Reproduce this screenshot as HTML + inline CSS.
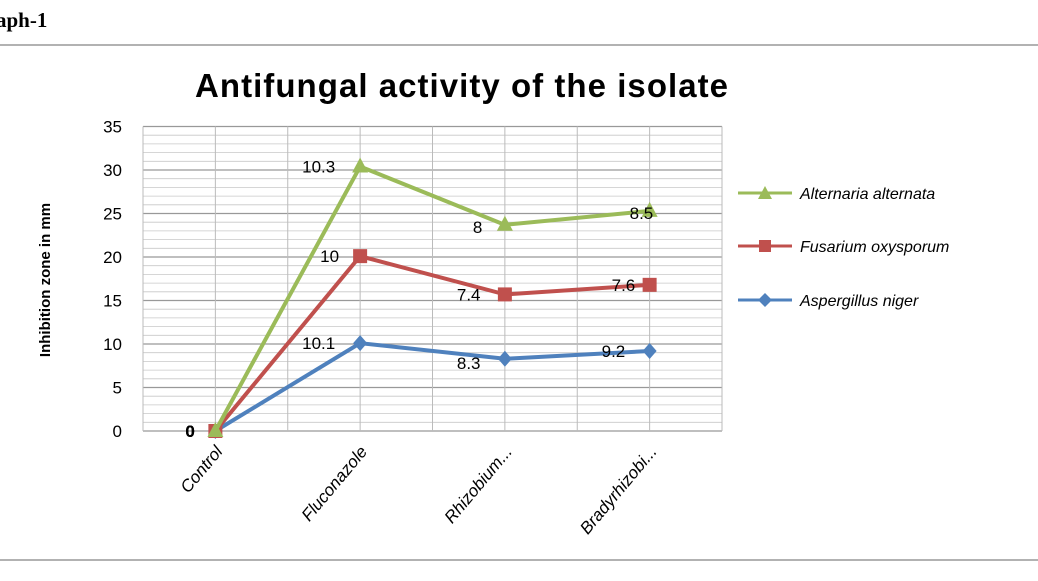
<!DOCTYPE html>
<html><head><meta charset="utf-8"><style>
body{margin:0;background:#fff;width:1038px;height:576px;overflow:hidden;font-family:"Liberation Sans",sans-serif}
</style></head><body>
<svg width="1038" height="576" id="c" font-family="Liberation Sans, sans-serif">
<text x="-4" y="27" font-family="Liberation Serif, serif" font-weight="bold" font-size="21">aph-1</text>
<line x1="0" y1="45" x2="1038" y2="45" stroke="#999" stroke-width="1.5"/>
<line x1="0" y1="560" x2="1038" y2="560" stroke="#999" stroke-width="1.5"/>
<text x="195" y="97" textLength="533" lengthAdjust="spacing" font-weight="bold" font-size="33">Antifungal  activity of the isolate</text>
<text transform="translate(50,280) rotate(-90)" text-anchor="middle" font-weight="bold" font-size="15">Inhibition zone in mm</text>
<g id="grid"></g><g id="ticks"></g><g id="series"></g>
<g>
<line x1="738" y1="193" x2="792" y2="193" stroke="#9bbb59" stroke-width="3"/><path d="M765,186 L772,199 L758,199Z" fill="#9bbb59"/>
<text x="800" y="199" font-style="italic" font-size="16">Alternaria alternata</text>
<line x1="738" y1="246" x2="792" y2="246" stroke="#c0504d" stroke-width="3"/><rect x="759" y="240" width="12" height="12" fill="#c0504d"/>
<text x="800" y="252" font-style="italic" font-size="16">Fusarium oxysporum</text>
<line x1="738" y1="300" x2="792" y2="300" stroke="#4f81bd" stroke-width="3"/><path d="M765,293 L772,300 L765,307 L758,300Z" fill="#4f81bd"/>
<text x="800" y="306" font-style="italic" font-size="16">Aspergillus  niger</text>
</g>
</svg>
<script>
const categories=["Control","Fluconazole","Rhizobium...","Bradyrhizobi..."];
const aspergillus=[0,10.1,8.3,9.2];
const fusarium=[0,10,7.4,7.6];
const alternaria=[0,10.3,8,8.5];
const yTicks=[0,5,10,15,20,25,30,35];
const NS="http://www.w3.org/2000/svg";
const X0=143,X1=722,Y0=431,Y35=126.5;
const xs=i=>X0+(X1-X0)/categories.length*(i+0.5);
const ys=v=>Y0-(Y0-Y35)*v/35;
function mk(t,a,p){const e=document.createElementNS(NS,t);for(const k in a)e.setAttribute(k,a[k]);p.appendChild(e);return e;}
const g=document.getElementById('grid'),tk=document.getElementById('ticks'),s=document.getElementById('series');
for(let v=0;v<=35;v++){const l=mk('line',{x1:X0,x2:X1,y1:ys(v),y2:ys(v),stroke:v%5?'#c8c8c8':'#999','stroke-width':v%5?0.8:1.2},g);

}
for(let i=0;i<=categories.length*2;i++){const x=X0+(X1-X0)/(categories.length*2)*i;const l=mk('line',{x1:x,x2:x,y1:Y35,y2:Y0,stroke:'#bbb','stroke-width':1},g);

}
yTicks.forEach(v=>{const t=mk('text',{x:122,y:ys(v)+6,'text-anchor':'end','font-size':17},tk);t.textContent=v;

});
categories.forEach((c,i)=>{const t=mk('text',{transform:`translate(${xs(i)+8},${452}) rotate(-50)`,'text-anchor':'end','font-style':'italic','font-size':17},tk);t.textContent=c;

});
const cum1=aspergillus.slice(),cum2=fusarium.map((v,i)=>v+cum1[i]),cum3=alternaria.map((v,i)=>v+cum2[i]);
const defs=[
{name:'alternaria',raw:alternaria,cum:cum3,col:'#9bbb59',m:'tri'},
{name:'fusarium',raw:fusarium,cum:cum2,col:'#c0504d',m:'sq'},
{name:'aspergillus',raw:aspergillus,cum:cum1,col:'#4f81bd',m:'dia'}];
const lblOff={alternaria:[[-30,6],[-58,6],[-32,8],[-20,8]],fusarium:[[-30,6],[-40,6],[-48,6],[-38,6]],aspergillus:[[-30,6],[-58,6],[-48,10],[-48,6]]};
[...defs].reverse().forEach(d=>{
const pl=mk('polyline',{points:d.cum.map((v,i)=>xs(i)+','+ys(v)).join(' '),fill:'none',stroke:d.col,'stroke-width':4},s);


d.cum.forEach((v,i)=>{const x=xs(i),y=ys(v);let m;
if(d.m==='tri')m=mk('path',{d:`M${x},${y-9} L${x+8},${y+6} L${x-8},${y+6}Z`,fill:d.col},s);
else if(d.m==='sq')m=mk('rect',{x:x-7,y:y-7,width:14,height:14,fill:d.col},s);
else m=mk('path',{d:`M${x},${y-8} L${x+7},${y} L${x},${y+8} L${x-7},${y}Z`,fill:d.col},s);


const o=lblOff[d.name][i];
const t=mk('text',{x:x+o[0],y:y+o[1],'font-size':17,'font-weight':i===0?'bold':'normal'},s);t.textContent=d.raw[i];

});
});
</script>
</body></html>
